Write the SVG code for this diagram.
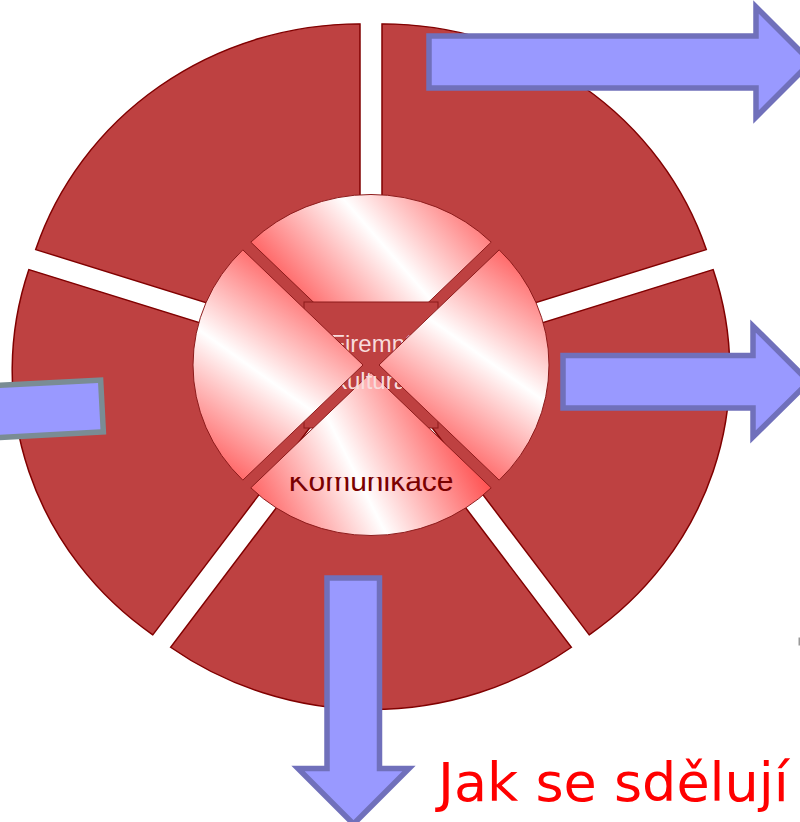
<svg xmlns="http://www.w3.org/2000/svg" width="800" height="822" viewBox="0 0 800 822">
  <defs>
    <style>
      .wedge { fill: #BE4141; stroke: #800000; stroke-width: 1.5; }
      .quarter { stroke: #8B1A1A; stroke-width: 1; }
      .arrow { fill: #9999FF; stroke: #7070BB; stroke-width: 5.5; stroke-linejoin: miter; }
      .arrow-gray { fill: #9999FF; stroke: #7A8C94; stroke-width: 5.5; }
      .center-text { font-family: "Liberation Sans", Arial, sans-serif; font-size: 24px; fill: #F8DCDC; text-anchor: middle; }
      .label { font-family: "Liberation Sans", Arial, sans-serif; font-size: 30px; fill: #7A0000; text-anchor: middle; }
      .title { font-family: "DejaVu Sans", Verdana, sans-serif; font-size: 54px; fill: #FF0000; }
    </style>
    <linearGradient id="gQ1" gradientUnits="userSpaceOnUse" x1="-79.7" y1="-48.2" x2="104.7" y2="-201.8">
      <stop offset="0" stop-color="#FF4A4A"/>
      <stop offset="0.5" stop-color="#FFFFFF"/>
      <stop offset="1" stop-color="#FF4A4A"/>
    </linearGradient>
    <linearGradient id="gQ2" gradientUnits="userSpaceOnUse" x1="187.9" y1="-101.2" x2="44.1" y2="90.8">
      <stop offset="0" stop-color="#FF4A4A"/>
      <stop offset="0.5" stop-color="#FFFFFF"/>
      <stop offset="1" stop-color="#FF4A4A"/>
    </linearGradient>
    <linearGradient id="gQ3" gradientUnits="userSpaceOnUse" x1="-122" y1="168.6" x2="94" y2="64">
      <stop offset="0" stop-color="#FF4A4A"/>
      <stop offset="0.5" stop-color="#FFFFFF"/>
      <stop offset="1" stop-color="#FF4A4A"/>
    </linearGradient>
    <linearGradient id="gQ4" gradientUnits="userSpaceOnUse" x1="-187.9" y1="101.2" x2="-44.1" y2="-90.8">
      <stop offset="0" stop-color="#FF4A4A"/>
      <stop offset="0.5" stop-color="#FFFFFF"/>
      <stop offset="1" stop-color="#FF4A4A"/>
    </linearGradient>
    <clipPath id="clipKom">
      <rect x="240" y="477" width="270" height="60"/>
    </clipPath>
  </defs>

  <rect width="800" height="822" fill="#FFFFFF"/>

  <g transform="translate(371,365) scale(1,0.958)">
    <g id="segment-top-right"><path class="wedge" d="M 11,-15.13 L 11,-356.1 A 341 341 0 0 1 335.3,-120.5 Z"/></g>
    <g id="segment-right"><path class="wedge" d="M 17.79,5.78 L 342.1,-99.6 A 341 341 0 0 1 218.2,281.7 Z"/></g>
    <g id="segment-bottom"><path class="wedge" d="M 0,18.7 L 200.4,294.6 A 341 341 0 0 1 -200.4,294.6 Z"/></g>
    <g id="segment-left"><path class="wedge" d="M -17.79,5.78 L -218.2,281.7 A 341 341 0 0 1 -342.1,-99.6 Z"/></g>
    <g id="segment-top-left"><path class="wedge" d="M -10.99,-15.13 L -335.3,-120.5 A 341 341 0 0 1 -11,-356.1 Z"/></g>
    <g id="quarter-top"><path class="quarter" fill="url(#gQ1)" d="M 0,-8 L -120.2,-128.2 A 170 170 0 0 1 120.2,-128.2 Z"/></g>
  </g>

  <g id="center-box">
    <rect x="304" y="302" width="134" height="126" fill="#BE4141" stroke="#8B1A1A" stroke-width="1"/>
  </g>

  <g transform="translate(371,365) scale(1,0.958)">
    <g id="quarter-bottom"><path class="quarter" fill="url(#gQ3)" d="M 0,8 L 120.2,128.2 A 170 170 0 0 1 -120.2,128.2 Z"/></g>
  </g>

  <g id="center-text">
    <text class="center-text" x="371" y="352">Firemní</text>
    <text class="center-text" x="371" y="389">kultura</text>
  </g>

  <g transform="translate(371,365) scale(1,0.958)">
    <g id="quarter-left"><path class="quarter" fill="url(#gQ4)" d="M -8,0 L -128.2,120.2 A 170 170 0 0 1 -128.2,-120.2 Z"/></g>
    <g id="quarter-right"><path class="quarter" fill="url(#gQ2)" d="M 8,0 L 128.2,-120.2 A 170 170 0 0 1 128.2,120.2 Z"/></g>
  </g>

  <g id="label-komunikace" clip-path="url(#clipKom)">
    <text class="label" x="371" y="491">Komunikace</text>
  </g>

  <g id="arrows">
    <path id="arrow-top" class="arrow" d="M 429,36 L 756,36 L 756,7 L 811,62 L 756,117 L 756,88 L 429,88 Z"/>
    <path id="arrow-right" class="arrow" d="M 563,355.5 L 753,355.5 L 753,326 L 809,381.7 L 753,437 L 753,408 L 563,408 Z"/>
    <path id="arrow-down" class="arrow" d="M 327,578 L 379.5,578 L 379.5,768.5 L 409,768.5 L 353.5,824 L 298,768.5 L 327,768.5 Z"/>
    <rect id="arrow-left" class="arrow-gray" x="-200" y="380" width="302" height="52" transform="rotate(-3 102 406)"/>
  </g>

  <g id="title">
    <text class="title" x="438" y="801">Jak se sdělují</text>
  </g>

  <rect x="798.5" y="637.5" width="2" height="8" fill="#999999"/>
</svg>
